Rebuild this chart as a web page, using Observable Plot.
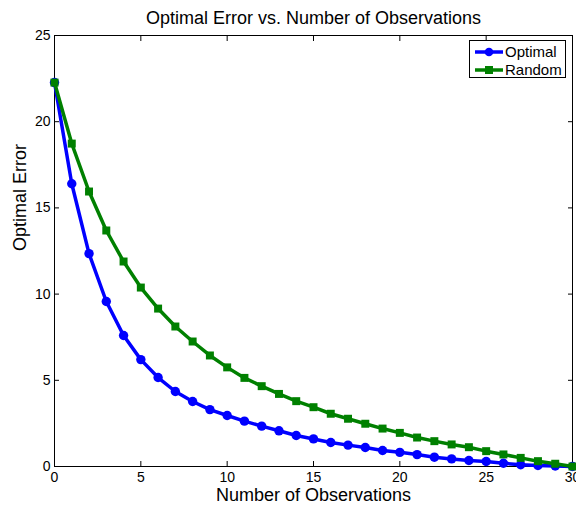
<!DOCTYPE html>
<html>
<head>
<meta charset="utf-8">
<script src="https://cdn.jsdelivr.net/npm/d3@7"></script>
<script src="https://cdn.jsdelivr.net/npm/@observablehq/plot@0.6"></script>
<style>
  html, body { margin: 0; padding: 0; background: white; }
  #wrap { position: relative; width: 576px; height: 506px; font-family: "Liberation Sans", Arial, Helvetica, sans-serif; }
  #legend { position: absolute; left: 469px; top: 40px; width: 97px; height: 38px; border: 1px solid black; background: white; box-sizing: border-box; }
  #legend .row { position: absolute; left: 5px; height: 18px; line-height: 18px; display: flex; align-items: center; font-size: 15px; }
  #legend svg { margin-right: 2px; display: block; }
</style>
</head>
<body>
<div id="wrap"></div>
<script>
const titleText = "Optimal Error vs. Number of Observations";
const xLabel = "Number of Observations";
const yLabel = "Optimal Error";
const observations = [0,1,2,3,4,5,6,7,8,9,10,11,12,13,14,15,16,17,18,19,20,21,22,23,24,25,26,27,28,29,30];
const optimal = [22.27, 16.4, 12.35, 9.57, 7.6, 6.2, 5.16, 4.35, 3.77, 3.3, 2.96, 2.63, 2.34, 2.07, 1.8, 1.6, 1.39, 1.24, 1.1, 0.93, 0.82, 0.69, 0.54, 0.44, 0.35, 0.29, 0.19, 0.1, 0.06, 0.03, 0];
const random = [22.27, 18.73, 15.95, 13.69, 11.89, 10.38, 9.16, 8.12, 7.25, 6.44, 5.75, 5.14, 4.66, 4.21, 3.79, 3.44, 3.06, 2.77, 2.48, 2.2, 1.95, 1.68, 1.47, 1.28, 1.12, 0.89, 0.7, 0.5, 0.31, 0.16, 0];
const xTicks = [0, 5, 10, 15, 20, 25, 30];
const yTicks = [0, 5, 10, 15, 20, 25];
const seriesNames = ["Optimal", "Random"];
const seriesColors = ["#0000ff", "#008000"];

const optData = observations.map((x, i) => ({x, y: optimal[i]}));
const rndData = observations.map((x, i) => ({x, y: random[i]}));
const blank = () => "";

const chart = Plot.plot({
  width: 576,
  height: 506,
  marginLeft: 54,
  marginRight: 4,
  marginTop: 35,
  marginBottom: 40,
  style: {fontFamily: '"Liberation Sans", Arial, Helvetica, sans-serif', fontSize: "14px", background: "white", color: "black", overflow: "visible"},
  x: {domain: [0, 30], ticks: xTicks},
  y: {domain: [0, 25], ticks: yTicks},
  marks: [
    Plot.frame({stroke: "black", strokeWidth: 1}),
    Plot.axisX({anchor: "bottom", ticks: xTicks, tickSize: 0, tickPadding: 6, fontSize: 14, label: null}),
    Plot.axisX({anchor: "bottom", ticks: xTicks, tickSize: -5, tickFormat: blank, label: null}),
    Plot.axisX({anchor: "top", ticks: xTicks, tickSize: -5, tickFormat: blank, label: null}),
    Plot.axisY({anchor: "left", ticks: yTicks, tickSize: 0, tickPadding: 4, fontSize: 14, label: null}),
    Plot.axisY({anchor: "left", ticks: yTicks, tickSize: -5, tickFormat: blank, label: null}),
    Plot.axisY({anchor: "right", ticks: yTicks, tickSize: -5, tickFormat: blank, label: null}),
    Plot.line(optData, {x: "x", y: "y", stroke: seriesColors[0], strokeWidth: 3.5}),
    Plot.dot(optData, {x: "x", y: "y", fill: seriesColors[0], r: 4.7, symbol: "circle"}),
    Plot.line(rndData, {x: "x", y: "y", stroke: seriesColors[1], strokeWidth: 3.5}),
    Plot.dot(rndData, {x: "x", y: "y", fill: seriesColors[1], r: 4.5, symbol: "square"}),
    Plot.text([titleText], {frameAnchor: "top", dy: -24, fontSize: 18, fill: "black"}),
    Plot.text([xLabel], {frameAnchor: "bottom", dy: 34, fontSize: 18, fill: "black"}),
    Plot.text([yLabel], {frameAnchor: "left", dx: -34, rotate: -90, fontSize: 18, fill: "black"})
  ]
});

const wrap = document.getElementById("wrap");
wrap.appendChild(chart);

const legend = document.createElement("div");
legend.id = "legend";
seriesNames.forEach((name, i) => {
  const row = document.createElement("div");
  row.className = "row";
  row.style.top = (i === 0 ? 2 : 20) + "px";
  const sym = i === 0
    ? `<circle cx="14" cy="6" r="4.3" fill="${seriesColors[i]}"/>`
    : `<rect x="10" y="2" width="8" height="8" fill="${seriesColors[i]}"/>`;
  row.innerHTML = `<svg width="28" height="12"><line x1="0" y1="6" x2="28" y2="6" stroke="${seriesColors[i]}" stroke-width="3.5"/>${sym}</svg><span>${name}</span>`;
  legend.appendChild(row);
});
wrap.appendChild(legend);
</script>
</body>
</html>
